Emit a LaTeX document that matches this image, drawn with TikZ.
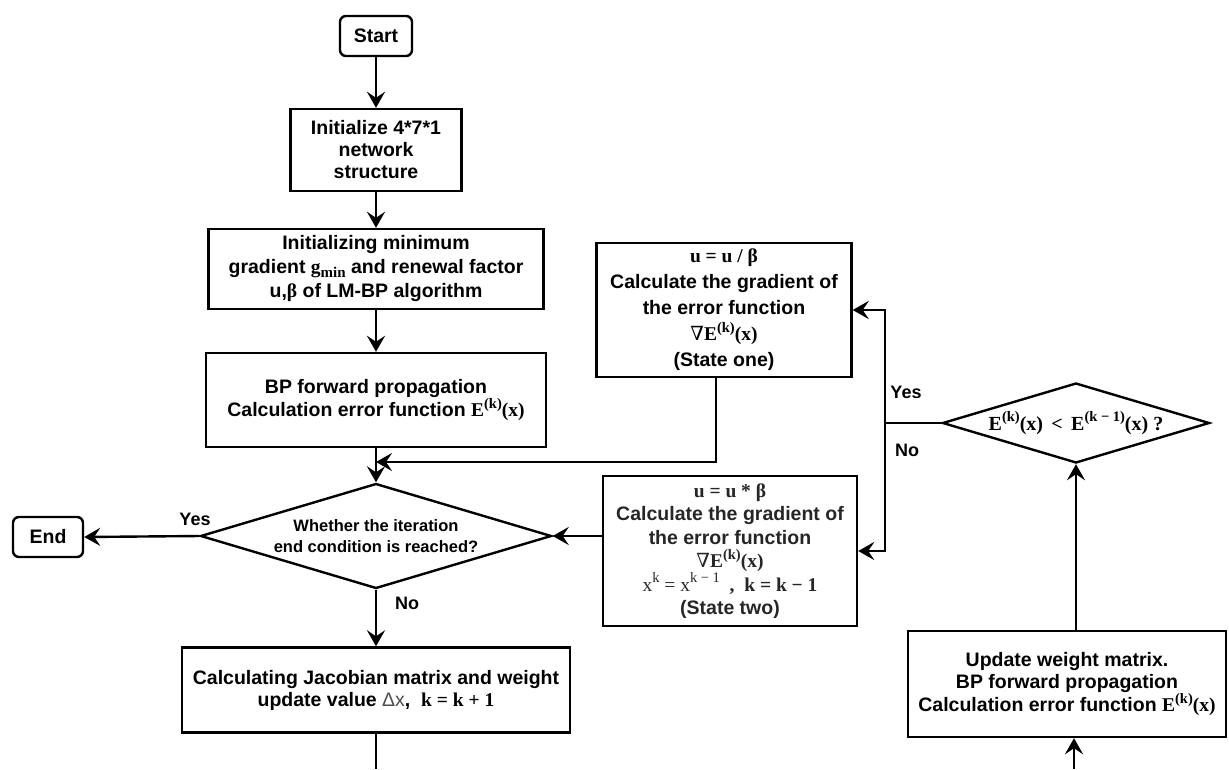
\documentclass[tikz,border=0pt]{standalone}
\usepackage{fontspec}
\setmainfont{Liberation Sans}
\newfontfamily\tnr{Liberation Serif}
\newfontfamily\dvs{DejaVu Serif}
\usetikzlibrary{arrows.meta}
\usetikzlibrary{shapes.geometric}
\newcommand{\mth}[1]{{\tnr\bfseries #1}}
\newcommand{\sps}[1]{\raisebox{0.42em}{\fontsize{14.5}{14.5}\selectfont #1}}
\newcommand{\sbs}[1]{\raisebox{-0.2em}{\fontsize{15}{15}\selectfont #1}}
\newcommand{\Ek}{\mth{E\sps{(k)}(x)}}
\tikzset{
  box/.style={draw, line width=2.4pt, align=center, inner sep=2pt,
    font=\fontsize{19.5}{22}\selectfont\bfseries},
  term/.style={box, rounded corners=6pt},
  cond/.style={draw, line width=2.4pt, diamond, aspect=3.34, inner sep=0pt,
    align=center, font=\fontsize{16.5}{21}\selectfont\bfseries},
  flow/.style={line width=2.4pt, -{Stealth[length=16pt,width=18pt,inset=6pt]}},
  lbl/.style={font=\fontsize{18}{18}\selectfont\bfseries}
}
\begin{document}
\begin{tikzpicture}[x=1pt,y=-1pt]
  \useasboundingbox (0,0) rectangle (1229,769);

  \node [term, minimum width=72, minimum height=40] (start) at (376,36) {Start};
  \node [box, minimum width=171, minimum height=82] (init) at (376,150)
    {Initialize 4*7*1\\network\\structure};
  \node [box, minimum width=335, minimum height=80,
    font=\fontsize{19.5}{24}\selectfont\bfseries] (para) at (376,269)
    {Initializing minimum\\gradient \mth{g\sbs{min}} and renewal factor\\u,\mth{β} of LM-BP algorithm};
  \node [box, minimum width=340, minimum height=94] (fwd) at (376,400)
    {BP forward propagation\\Calculation error function \Ek};
  \node [cond, minimum width=351, minimum height=105] (iter) at (376,536)
    {Whether the iteration\\end condition is reached?};
  \node [term, minimum width=70, minimum height=40] (end) at (48,537) {End};
  \node [box, minimum width=388, minimum height=85] (jac) at (376,690)
    {Calculating Jacobian matrix and weight\\update value {\mdseries\color{black!70}Δx},\ \ \mth{k = k + 1}};

  \node [box, minimum width=255, minimum height=134,
    font=\fontsize{19.5}{26}\selectfont\bfseries] (one) at (724,310)
    {\mth{u = u / β}\\Calculate the gradient of\\the error function\\{\dvs\mdseries ∇}\Ek\\(State one)};
  \node [box, minimum width=254, minimum height=150, text=black!85,
    font=\fontsize{19.5}{23.5}\selectfont\bfseries] (two) at (730,551)
    {\mth{u = u * β}\\Calculate the gradient of\\the error function\\{\dvs\mdseries ∇}\Ek\\
     \mth{{\mdseries x\sps{k} = x\sps{k − 1}}\ \ ,\ \ k = k − 1}\\(State two)};
  \node [cond, minimum width=267, minimum height=80,
    font=\fontsize{20}{22}\selectfont] (cmp) at (1076,423)
    {\mth{E\sps{(k)}(x)\ \,<\,\ E\sps{(k − 1)}(x) ?}};
  \node [box, minimum width=318, minimum height=106] (upd) at (1067,684)
    {Update weight matrix.\\BP forward propagation\\Calculation error function \Ek};

  \node [lbl] (yes1) at (195,519) {Yes};
  \node [lbl] (no1) at (407,603) {No};
  \node [lbl] (yes2) at (906,392) {Yes};
  \node [lbl] (no2) at (907,450) {No};

  \coordinate (merge) at (376,462);
  \coordinate (split) at (885,423);
  \coordinate (jacout) at (376,769);
  \coordinate (updin) at (1074,769);

  \draw [flow] (start) -- (init);
  \draw [flow] (init) -- (para);
  \draw [flow] (para) -- (fwd);
  \draw [flow] (fwd) -- (iter);
  \draw [flow] ([xshift=-8pt]one.south) |- (merge);
  \draw [flow] (iter.west) -- (end.east);
  \draw [flow] (iter.south) -- (jac.north);
  \draw [line width=2.4pt] (jac.south) -- (jacout);
  \draw [flow] (two.west |- iter.east) -- (iter.east);
  \draw [line width=2.4pt] (cmp.west) -- (split);
  \draw [flow] (split) |- (one.east);
  \draw [flow] (split) |- (two.east);
  \draw [flow] (upd.north -| cmp.south) -- (cmp.south);
  \draw [flow] (updin) -- (updin |- upd.south);

\end{tikzpicture}
\end{document}
